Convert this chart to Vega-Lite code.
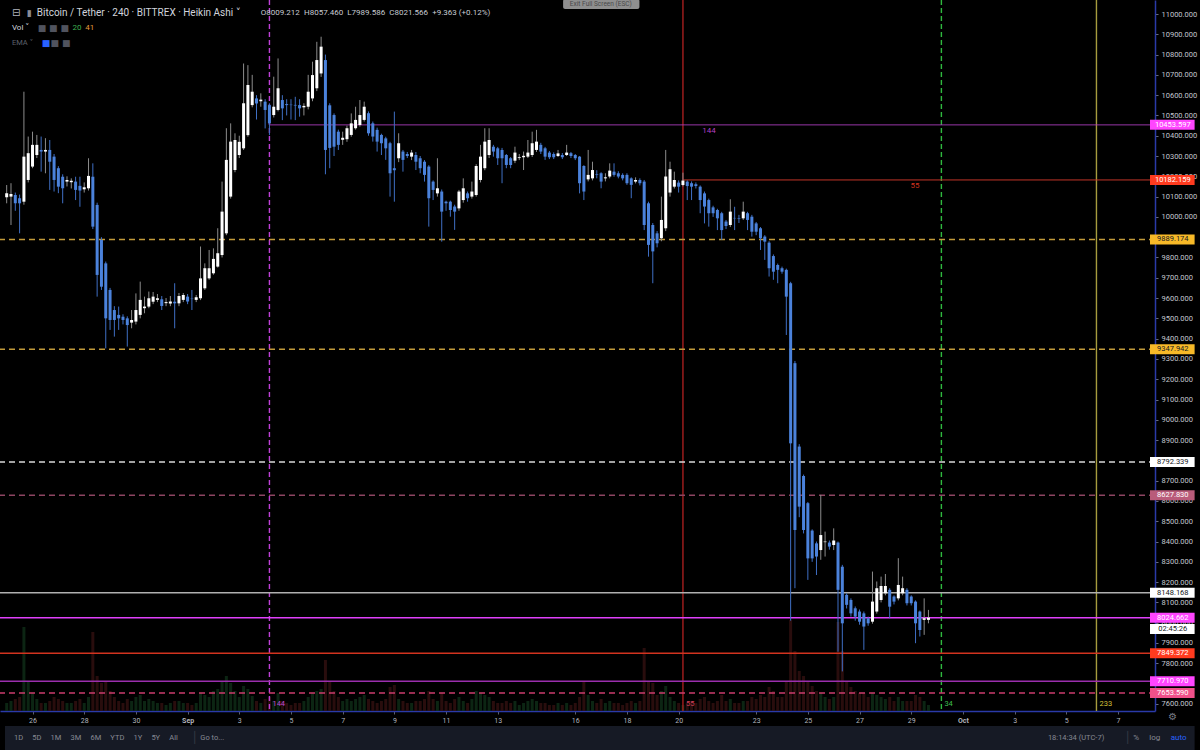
{
"$schema":"https://vega.github.io/schema/vega-lite/v6.json",
"usermeta":{"embedOptions":{"actions":false}},
"width":1155,"height":711,
"autosize":{"type":"none"},
"padding":{"left":0,"top":0,"right":45,"bottom":39},
"background":"#000000",
"config":{"view":{"stroke":null},"font":"Roboto","text":{"font":"Roboto"},"axis":{"labelOverlap":false},"axisY":{"labelOverlap":false,"tickCount":40}},
"datasets":{
"candles":[
{"t":"2019-08-25T00:00Z","o":10097,"h":10157,"l":10067,"c":10117,"v":8},
{"t":"2019-08-25T04:00Z","o":10100,"h":10166,"l":9960,"c":10113,"v":10},
{"t":"2019-08-25T08:00Z","o":10108,"h":10120,"l":10030,"c":10067,"v":12},
{"t":"2019-08-25T12:00Z","o":10092,"h":10110,"l":9919,"c":10067,"v":14},
{"t":"2019-08-25T16:00Z","o":10075,"h":10617,"l":10060,"c":10297,"v":84},
{"t":"2019-08-25T20:00Z","o":10182,"h":10396,"l":10170,"c":10314,"v":30},
{"t":"2019-08-26T00:00Z","o":10248,"h":10420,"l":10240,"c":10355,"v":18},
{"t":"2019-08-26T04:00Z","o":10305,"h":10404,"l":10290,"c":10355,"v":12},
{"t":"2019-08-26T08:00Z","o":10330,"h":10396,"l":10223,"c":10322,"v":8},
{"t":"2019-08-26T12:00Z","o":10322,"h":10388,"l":10215,"c":10330,"v":8},
{"t":"2019-08-26T16:00Z","o":10330,"h":10379,"l":10133,"c":10272,"v":10},
{"t":"2019-08-26T20:00Z","o":10297,"h":10310,"l":10125,"c":10182,"v":14},
{"t":"2019-08-27T00:00Z","o":10240,"h":10250,"l":10117,"c":10149,"v":12},
{"t":"2019-08-27T04:00Z","o":10198,"h":10210,"l":10067,"c":10141,"v":10},
{"t":"2019-08-27T08:00Z","o":10174,"h":10200,"l":10150,"c":10182,"v":8},
{"t":"2019-08-27T12:00Z","o":10171,"h":10190,"l":10140,"c":10178,"v":8},
{"t":"2019-08-27T16:00Z","o":10174,"h":10198,"l":10083,"c":10133,"v":10},
{"t":"2019-08-27T20:00Z","o":10153,"h":10198,"l":10050,"c":10130,"v":12},
{"t":"2019-08-28T00:00Z","o":10136,"h":10170,"l":10120,"c":10146,"v":8},
{"t":"2019-08-28T04:00Z","o":10141,"h":10289,"l":10130,"c":10202,"v":14},
{"t":"2019-08-28T08:00Z","o":10198,"h":10264,"l":9940,"c":9952,"v":79},
{"t":"2019-08-28T12:00Z","o":10059,"h":10070,"l":9607,"c":9714,"v":35},
{"t":"2019-08-28T16:00Z","o":9886,"h":9900,"l":9640,"c":9656,"v":28},
{"t":"2019-08-28T20:00Z","o":9771,"h":9780,"l":9352,"c":9500,"v":30},
{"t":"2019-08-29T00:00Z","o":9640,"h":9650,"l":9443,"c":9492,"v":20},
{"t":"2019-08-29T04:00Z","o":9541,"h":9560,"l":9410,"c":9492,"v":14},
{"t":"2019-08-29T08:00Z","o":9517,"h":9558,"l":9443,"c":9500,"v":10},
{"t":"2019-08-29T12:00Z","o":9508,"h":9520,"l":9470,"c":9492,"v":8},
{"t":"2019-08-29T16:00Z","o":9500,"h":9510,"l":9361,"c":9467,"v":12},
{"t":"2019-08-29T20:00Z","o":9479,"h":9541,"l":9451,"c":9492,"v":10},
{"t":"2019-08-30T00:00Z","o":9484,"h":9623,"l":9470,"c":9541,"v":14},
{"t":"2019-08-30T04:00Z","o":9517,"h":9681,"l":9500,"c":9591,"v":16},
{"t":"2019-08-30T08:00Z","o":9550,"h":9607,"l":9525,"c":9558,"v":10},
{"t":"2019-08-30T12:00Z","o":9558,"h":9632,"l":9550,"c":9599,"v":12},
{"t":"2019-08-30T16:00Z","o":9582,"h":9630,"l":9570,"c":9607,"v":10},
{"t":"2019-08-30T20:00Z","o":9591,"h":9620,"l":9580,"c":9599,"v":8},
{"t":"2019-08-31T00:00Z","o":9594,"h":9610,"l":9541,"c":9561,"v":8},
{"t":"2019-08-31T04:00Z","o":9575,"h":9600,"l":9560,"c":9580,"v":6},
{"t":"2019-08-31T08:00Z","o":9573,"h":9610,"l":9560,"c":9583,"v":8},
{"t":"2019-08-31T12:00Z","o":9582,"h":9673,"l":9451,"c":9574,"v":10},
{"t":"2019-08-31T16:00Z","o":9574,"h":9625,"l":9560,"c":9610,"v":10},
{"t":"2019-08-31T20:00Z","o":9591,"h":9625,"l":9580,"c":9615,"v":8},
{"t":"2019-09-01T00:00Z","o":9607,"h":9620,"l":9570,"c":9583,"v":8},
{"t":"2019-09-01T04:00Z","o":9597,"h":9640,"l":9541,"c":9595,"v":6},
{"t":"2019-09-01T08:00Z","o":9591,"h":9615,"l":9580,"c":9604,"v":8},
{"t":"2019-09-01T12:00Z","o":9599,"h":9854,"l":9590,"c":9697,"v":18},
{"t":"2019-09-01T16:00Z","o":9648,"h":9771,"l":9640,"c":9747,"v":16},
{"t":"2019-09-01T20:00Z","o":9697,"h":9837,"l":9690,"c":9747,"v":14},
{"t":"2019-09-02T00:00Z","o":9722,"h":9845,"l":9715,"c":9793,"v":20},
{"t":"2019-09-02T04:00Z","o":9755,"h":9944,"l":9750,"c":9821,"v":22},
{"t":"2019-09-02T08:00Z","o":9812,"h":10174,"l":9800,"c":10026,"v":30},
{"t":"2019-09-02T12:00Z","o":9919,"h":10437,"l":9910,"c":10281,"v":35},
{"t":"2019-09-02T16:00Z","o":10100,"h":10461,"l":10090,"c":10371,"v":28},
{"t":"2019-09-02T20:00Z","o":10231,"h":10412,"l":10220,"c":10379,"v":20},
{"t":"2019-09-03T00:00Z","o":10305,"h":10400,"l":10290,"c":10370,"v":14},
{"t":"2019-09-03T04:00Z","o":10338,"h":10756,"l":10330,"c":10560,"v":25},
{"t":"2019-09-03T08:00Z","o":10403,"h":10748,"l":10395,"c":10650,"v":22},
{"t":"2019-09-03T12:00Z","o":10551,"h":10700,"l":10540,"c":10617,"v":15},
{"t":"2019-09-03T16:00Z","o":10584,"h":10600,"l":10480,"c":10559,"v":10},
{"t":"2019-09-03T20:00Z","o":10570,"h":10609,"l":10543,"c":10578,"v":8},
{"t":"2019-09-04T00:00Z","o":10568,"h":10580,"l":10436,"c":10527,"v":12},
{"t":"2019-09-04T04:00Z","o":10551,"h":10560,"l":10403,"c":10461,"v":14},
{"t":"2019-09-04T08:00Z","o":10502,"h":10691,"l":10490,"c":10543,"v":10},
{"t":"2019-09-04T12:00Z","o":10527,"h":10781,"l":10520,"c":10634,"v":18},
{"t":"2019-09-04T16:00Z","o":10576,"h":10600,"l":10477,"c":10535,"v":10},
{"t":"2019-09-04T20:00Z","o":10556,"h":10580,"l":10500,"c":10551,"v":8},
{"t":"2019-09-05T00:00Z","o":10553,"h":10580,"l":10480,"c":10551,"v":6},
{"t":"2019-09-05T04:00Z","o":10552,"h":10592,"l":10477,"c":10549,"v":8},
{"t":"2019-09-05T08:00Z","o":10551,"h":10580,"l":10494,"c":10535,"v":8},
{"t":"2019-09-05T12:00Z","o":10540,"h":10560,"l":10500,"c":10547,"v":10},
{"t":"2019-09-05T16:00Z","o":10543,"h":10700,"l":10530,"c":10617,"v":14},
{"t":"2019-09-05T20:00Z","o":10584,"h":10765,"l":10570,"c":10699,"v":18},
{"t":"2019-09-06T00:00Z","o":10634,"h":10863,"l":10620,"c":10773,"v":20},
{"t":"2019-09-06T04:00Z","o":10707,"h":10888,"l":10690,"c":10839,"v":22},
{"t":"2019-09-06T08:00Z","o":10773,"h":10800,"l":10210,"c":10330,"v":51},
{"t":"2019-09-06T12:00Z","o":10550,"h":10560,"l":10240,"c":10340,"v":30},
{"t":"2019-09-06T16:00Z","o":10502,"h":10510,"l":10300,"c":10346,"v":20},
{"t":"2019-09-06T20:00Z","o":10420,"h":10430,"l":10330,"c":10355,"v":14},
{"t":"2019-09-07T00:00Z","o":10380,"h":10420,"l":10355,"c":10390,"v":10},
{"t":"2019-09-07T04:00Z","o":10383,"h":10450,"l":10370,"c":10437,"v":12},
{"t":"2019-09-07T08:00Z","o":10404,"h":10510,"l":10395,"c":10461,"v":10},
{"t":"2019-09-07T12:00Z","o":10437,"h":10543,"l":10430,"c":10478,"v":12},
{"t":"2019-09-07T16:00Z","o":10453,"h":10576,"l":10445,"c":10502,"v":14},
{"t":"2019-09-07T20:00Z","o":10478,"h":10568,"l":10470,"c":10543,"v":16},
{"t":"2019-09-08T00:00Z","o":10511,"h":10520,"l":10400,"c":10412,"v":12},
{"t":"2019-09-08T04:00Z","o":10461,"h":10470,"l":10371,"c":10396,"v":10},
{"t":"2019-09-08T08:00Z","o":10429,"h":10440,"l":10322,"c":10371,"v":8},
{"t":"2019-09-08T12:00Z","o":10404,"h":10410,"l":10305,"c":10363,"v":10},
{"t":"2019-09-08T16:00Z","o":10387,"h":10395,"l":10281,"c":10338,"v":12},
{"t":"2019-09-08T20:00Z","o":10363,"h":10370,"l":10100,"c":10215,"v":24},
{"t":"2019-09-09T00:00Z","o":10240,"h":10519,"l":10075,"c":10230,"v":26},
{"t":"2019-09-09T04:00Z","o":10289,"h":10412,"l":10270,"c":10363,"v":12},
{"t":"2019-09-09T08:00Z","o":10322,"h":10330,"l":10223,"c":10281,"v":10},
{"t":"2019-09-09T12:00Z","o":10310,"h":10320,"l":10290,"c":10300,"v":8},
{"t":"2019-09-09T16:00Z","o":10297,"h":10330,"l":10280,"c":10317,"v":8},
{"t":"2019-09-09T20:00Z","o":10305,"h":10320,"l":10231,"c":10272,"v":10},
{"t":"2019-09-10T00:00Z","o":10289,"h":10300,"l":10215,"c":10240,"v":10},
{"t":"2019-09-10T04:00Z","o":10272,"h":10280,"l":10174,"c":10207,"v":12},
{"t":"2019-09-10T08:00Z","o":10248,"h":10255,"l":9952,"c":10092,"v":20},
{"t":"2019-09-10T12:00Z","o":10174,"h":10180,"l":10083,"c":10133,"v":12},
{"t":"2019-09-10T16:00Z","o":10116,"h":10289,"l":10100,"c":10141,"v":10},
{"t":"2019-09-10T20:00Z","o":10125,"h":10135,"l":9878,"c":10026,"v":18},
{"t":"2019-09-11T00:00Z","o":10075,"h":10080,"l":10030,"c":10067,"v":10},
{"t":"2019-09-11T04:00Z","o":10075,"h":10080,"l":10001,"c":10034,"v":8},
{"t":"2019-09-11T08:00Z","o":10051,"h":10060,"l":9936,"c":10026,"v":12},
{"t":"2019-09-11T12:00Z","o":10042,"h":10133,"l":10030,"c":10125,"v":14},
{"t":"2019-09-11T16:00Z","o":10083,"h":10190,"l":10070,"c":10141,"v":10},
{"t":"2019-09-11T20:00Z","o":10116,"h":10125,"l":10075,"c":10092,"v":8},
{"t":"2019-09-12T00:00Z","o":10100,"h":10174,"l":10090,"c":10125,"v":12},
{"t":"2019-09-12T04:00Z","o":10108,"h":10260,"l":10100,"c":10251,"v":20},
{"t":"2019-09-12T08:00Z","o":10182,"h":10355,"l":10170,"c":10297,"v":18},
{"t":"2019-09-12T12:00Z","o":10240,"h":10437,"l":10230,"c":10371,"v":16},
{"t":"2019-09-12T16:00Z","o":10305,"h":10437,"l":10290,"c":10379,"v":14},
{"t":"2019-09-12T20:00Z","o":10346,"h":10355,"l":10297,"c":10322,"v":10},
{"t":"2019-09-13T00:00Z","o":10338,"h":10345,"l":10256,"c":10289,"v":8},
{"t":"2019-09-13T04:00Z","o":10330,"h":10340,"l":10166,"c":10289,"v":8},
{"t":"2019-09-13T08:00Z","o":10305,"h":10310,"l":10240,"c":10256,"v":10},
{"t":"2019-09-13T12:00Z","o":10289,"h":10295,"l":10240,"c":10256,"v":8},
{"t":"2019-09-13T16:00Z","o":10277,"h":10346,"l":10265,"c":10317,"v":10},
{"t":"2019-09-13T20:00Z","o":10290,"h":10310,"l":10280,"c":10294,"v":6},
{"t":"2019-09-14T00:00Z","o":10294,"h":10322,"l":10231,"c":10301,"v":8},
{"t":"2019-09-14T04:00Z","o":10297,"h":10379,"l":10290,"c":10317,"v":10},
{"t":"2019-09-14T08:00Z","o":10305,"h":10420,"l":10295,"c":10363,"v":12},
{"t":"2019-09-14T12:00Z","o":10330,"h":10429,"l":10320,"c":10371,"v":10},
{"t":"2019-09-14T16:00Z","o":10355,"h":10365,"l":10310,"c":10322,"v":8},
{"t":"2019-09-14T20:00Z","o":10338,"h":10345,"l":10281,"c":10297,"v":8},
{"t":"2019-09-15T00:00Z","o":10317,"h":10325,"l":10285,"c":10294,"v":6},
{"t":"2019-09-15T04:00Z","o":10310,"h":10318,"l":10285,"c":10294,"v":6},
{"t":"2019-09-15T08:00Z","o":10300,"h":10330,"l":10295,"c":10313,"v":8},
{"t":"2019-09-15T12:00Z","o":10305,"h":10315,"l":10285,"c":10294,"v":6},
{"t":"2019-09-15T16:00Z","o":10305,"h":10355,"l":10300,"c":10317,"v":8},
{"t":"2019-09-15T20:00Z","o":10314,"h":10320,"l":10290,"c":10300,"v":6},
{"t":"2019-09-16T00:00Z","o":10305,"h":10310,"l":10280,"c":10289,"v":8},
{"t":"2019-09-16T04:00Z","o":10297,"h":10300,"l":10116,"c":10166,"v":14},
{"t":"2019-09-16T08:00Z","o":10251,"h":10255,"l":10083,"c":10125,"v":30},
{"t":"2019-09-16T12:00Z","o":10185,"h":10330,"l":10175,"c":10207,"v":16},
{"t":"2019-09-16T16:00Z","o":10190,"h":10272,"l":10180,"c":10231,"v":10},
{"t":"2019-09-16T20:00Z","o":10210,"h":10230,"l":10190,"c":10207,"v":8},
{"t":"2019-09-17T00:00Z","o":10215,"h":10220,"l":10141,"c":10174,"v":12},
{"t":"2019-09-17T04:00Z","o":10190,"h":10215,"l":10175,"c":10195,"v":8},
{"t":"2019-09-17T08:00Z","o":10199,"h":10264,"l":10190,"c":10228,"v":10},
{"t":"2019-09-17T12:00Z","o":10223,"h":10264,"l":10198,"c":10207,"v":8},
{"t":"2019-09-17T16:00Z","o":10215,"h":10225,"l":10190,"c":10199,"v":8},
{"t":"2019-09-17T20:00Z","o":10207,"h":10215,"l":10180,"c":10190,"v":6},
{"t":"2019-09-18T00:00Z","o":10207,"h":10215,"l":10158,"c":10166,"v":8},
{"t":"2019-09-18T04:00Z","o":10190,"h":10195,"l":10092,"c":10158,"v":10},
{"t":"2019-09-18T08:00Z","o":10174,"h":10195,"l":10165,"c":10182,"v":8},
{"t":"2019-09-18T12:00Z","o":10182,"h":10190,"l":10155,"c":10166,"v":10},
{"t":"2019-09-18T16:00Z","o":10174,"h":10182,"l":9935,"c":9960,"v":63},
{"t":"2019-09-18T20:00Z","o":10067,"h":10075,"l":9804,"c":9862,"v":30},
{"t":"2019-09-19T00:00Z","o":9960,"h":9970,"l":9673,"c":9830,"v":28},
{"t":"2019-09-19T04:00Z","o":9919,"h":9930,"l":9850,"c":9870,"v":16},
{"t":"2019-09-19T08:00Z","o":9895,"h":10100,"l":9880,"c":9985,"v":20},
{"t":"2019-09-19T12:00Z","o":9944,"h":10330,"l":9930,"c":10199,"v":25},
{"t":"2019-09-19T16:00Z","o":10120,"h":10272,"l":10100,"c":10235,"v":14},
{"t":"2019-09-19T20:00Z","o":10149,"h":10223,"l":10140,"c":10182,"v":10},
{"t":"2019-09-20T00:00Z","o":10169,"h":10180,"l":10120,"c":10149,"v":8},
{"t":"2019-09-20T04:00Z","o":10157,"h":10218,"l":10150,"c":10179,"v":6},
{"t":"2019-09-20T08:00Z","o":10174,"h":10180,"l":10083,"c":10152,"v":8},
{"t":"2019-09-20T12:00Z","o":10166,"h":10175,"l":10083,"c":10149,"v":10},
{"t":"2019-09-20T16:00Z","o":10161,"h":10170,"l":10140,"c":10152,"v":8},
{"t":"2019-09-20T20:00Z","o":10149,"h":10155,"l":10018,"c":10083,"v":12},
{"t":"2019-09-21T00:00Z","o":10116,"h":10125,"l":9968,"c":10051,"v":14},
{"t":"2019-09-21T04:00Z","o":10083,"h":10090,"l":9952,"c":10018,"v":10},
{"t":"2019-09-21T08:00Z","o":10047,"h":10055,"l":10000,"c":10018,"v":8},
{"t":"2019-09-21T12:00Z","o":10034,"h":10040,"l":9935,"c":9993,"v":10},
{"t":"2019-09-21T16:00Z","o":10018,"h":10025,"l":9886,"c":9935,"v":16},
{"t":"2019-09-21T20:00Z","o":9977,"h":9985,"l":9940,"c":9955,"v":10},
{"t":"2019-09-22T00:00Z","o":9960,"h":10087,"l":9950,"c":10026,"v":12},
{"t":"2019-09-22T04:00Z","o":9995,"h":10050,"l":9935,"c":9993,"v":8},
{"t":"2019-09-22T08:00Z","o":9993,"h":10010,"l":9970,"c":9990,"v":8},
{"t":"2019-09-22T12:00Z","o":9993,"h":10075,"l":9985,"c":10026,"v":10},
{"t":"2019-09-22T16:00Z","o":10018,"h":10025,"l":9935,"c":9985,"v":10},
{"t":"2019-09-22T20:00Z","o":10001,"h":10010,"l":9903,"c":9927,"v":14},
{"t":"2019-09-23T00:00Z","o":9968,"h":9975,"l":9910,"c":9927,"v":12},
{"t":"2019-09-23T04:00Z","o":9944,"h":9950,"l":9837,"c":9895,"v":16},
{"t":"2019-09-23T08:00Z","o":9903,"h":9910,"l":9788,"c":9878,"v":14},
{"t":"2019-09-23T12:00Z","o":9873,"h":9880,"l":9706,"c":9747,"v":24},
{"t":"2019-09-23T16:00Z","o":9807,"h":9815,"l":9690,"c":9730,"v":20},
{"t":"2019-09-23T20:00Z","o":9763,"h":9770,"l":9673,"c":9739,"v":14},
{"t":"2019-09-24T00:00Z","o":9747,"h":9755,"l":9720,"c":9730,"v":14},
{"t":"2019-09-24T04:00Z","o":9739,"h":9745,"l":9418,"c":9607,"v":30},
{"t":"2019-09-24T08:00Z","o":9673,"h":9680,"l":8010,"c":8884,"v":91},
{"t":"2019-09-24T12:00Z","o":9279,"h":9290,"l":8170,"c":8457,"v":60},
{"t":"2019-09-24T16:00Z","o":8868,"h":8880,"l":8520,"c":8572,"v":40},
{"t":"2019-09-24T20:00Z","o":8723,"h":8730,"l":8440,"c":8457,"v":35},
{"t":"2019-09-25T00:00Z","o":8589,"h":8595,"l":8211,"c":8317,"v":30},
{"t":"2019-09-25T04:00Z","o":8454,"h":8460,"l":8300,"c":8317,"v":25},
{"t":"2019-09-25T08:00Z","o":8391,"h":8400,"l":8235,"c":8326,"v":20},
{"t":"2019-09-25T12:00Z","o":8358,"h":8630,"l":8310,"c":8432,"v":18},
{"t":"2019-09-25T16:00Z","o":8397,"h":8449,"l":8326,"c":8400,"v":14},
{"t":"2019-09-25T20:00Z","o":8395,"h":8405,"l":8360,"c":8375,"v":12},
{"t":"2019-09-26T00:00Z","o":8383,"h":8465,"l":8358,"c":8405,"v":14},
{"t":"2019-09-26T04:00Z","o":8395,"h":8400,"l":7857,"c":8162,"v":89},
{"t":"2019-09-26T08:00Z","o":8276,"h":8285,"l":7760,"c":7997,"v":60},
{"t":"2019-09-26T12:00Z","o":8137,"h":8145,"l":8070,"c":8088,"v":30},
{"t":"2019-09-26T16:00Z","o":8112,"h":8120,"l":8030,"c":8046,"v":24},
{"t":"2019-09-26T20:00Z","o":8071,"h":8080,"l":8010,"c":8030,"v":20},
{"t":"2019-09-27T00:00Z","o":8055,"h":8065,"l":7990,"c":8005,"v":18},
{"t":"2019-09-27T04:00Z","o":8046,"h":8055,"l":7866,"c":7981,"v":18},
{"t":"2019-09-27T08:00Z","o":8022,"h":8030,"l":7985,"c":7997,"v":14},
{"t":"2019-09-27T12:00Z","o":8005,"h":8252,"l":7995,"c":8104,"v":18},
{"t":"2019-09-27T16:00Z","o":8055,"h":8203,"l":8045,"c":8170,"v":16},
{"t":"2019-09-27T20:00Z","o":8112,"h":8227,"l":8100,"c":8181,"v":14},
{"t":"2019-09-28T00:00Z","o":8145,"h":8240,"l":8135,"c":8181,"v":12},
{"t":"2019-09-28T04:00Z","o":8162,"h":8170,"l":8022,"c":8079,"v":14},
{"t":"2019-09-28T08:00Z","o":8129,"h":8135,"l":8090,"c":8104,"v":10},
{"t":"2019-09-28T12:00Z","o":8120,"h":8318,"l":8110,"c":8186,"v":14},
{"t":"2019-09-28T16:00Z","o":8145,"h":8227,"l":8135,"c":8170,"v":10},
{"t":"2019-09-28T20:00Z","o":8162,"h":8170,"l":8085,"c":8096,"v":10},
{"t":"2019-09-29T00:00Z","o":8129,"h":8135,"l":8085,"c":8096,"v":10},
{"t":"2019-09-29T04:00Z","o":8104,"h":8110,"l":7899,"c":7997,"v":16},
{"t":"2019-09-29T08:00Z","o":8055,"h":8060,"l":7932,"c":7964,"v":14},
{"t":"2019-09-29T12:00Z","o":8014,"h":8120,"l":7940,"c":8022,"v":10},
{"t":"2019-09-29T16:00Z","o":8014,"h":8063,"l":7997,"c":8025,"v":6}
],
"levels":[
{"p":10453.597,"k":"L1","from":"2019-09-04T04:00Z"},
{"p":10182.159,"k":"L2","from":"2019-09-20T04:00Z"},
{"p":9889.174,"k":"L3"},
{"p":9347.942,"k":"L4"},
{"p":8792.339,"k":"L5"},
{"p":8627.830,"k":"L6"},
{"p":8148.168,"k":"L7"},
{"p":8024.662,"k":"L8"},
{"p":7849.372,"k":"L9"},
{"p":7710.970,"k":"L10"},
{"p":7653.590,"k":"L11"}
],
"vlines":[
{"t":"2019-09-04T04:00Z","k":"V1","lab":"144"},
{"t":"2019-09-20T04:00Z","k":"V2","lab":"55"},
{"t":"2019-09-30T04:00Z","k":"V3","lab":"34"},
{"t":"2019-10-06T04:00Z","k":"V4","lab":"233"}
]
},
"layer":[
{
"data":{"name":"candles"},
"mark":{"type":"tick","orient":"vertical","thickness":3,"clip":true},
"encoding":{
"x":{"field":"t","type":"temporal",
 "scale":{"type":"utc","domain":[{"year":2019,"month":8,"date":24,"hours":22,"minutes":26,"seconds":6,"utc":true},{"year":2019,"month":10,"date":8,"hours":5,"minutes":43,"seconds":34,"utc":true}]},
 "axis":{"title":null,"grid":false,
  "values":[{"year":2019,"month":8,"date":26,"utc":true},{"year":2019,"month":8,"date":28,"utc":true},{"year":2019,"month":8,"date":30,"utc":true},{"year":2019,"month":9,"date":1,"utc":true},{"year":2019,"month":9,"date":3,"utc":true},{"year":2019,"month":9,"date":5,"utc":true},{"year":2019,"month":9,"date":7,"utc":true},{"year":2019,"month":9,"date":9,"utc":true},{"year":2019,"month":9,"date":11,"utc":true},{"year":2019,"month":9,"date":13,"utc":true},{"year":2019,"month":9,"date":16,"utc":true},{"year":2019,"month":9,"date":18,"utc":true},{"year":2019,"month":9,"date":20,"utc":true},{"year":2019,"month":9,"date":23,"utc":true},{"year":2019,"month":9,"date":25,"utc":true},{"year":2019,"month":9,"date":27,"utc":true},{"year":2019,"month":9,"date":29,"utc":true},{"year":2019,"month":10,"date":1,"utc":true},{"year":2019,"month":10,"date":3,"utc":true},{"year":2019,"month":10,"date":5,"utc":true},{"year":2019,"month":10,"date":7,"utc":true}],
  "labelExpr":"utcdate(datum.value) == 1 ? utcFormat(datum.value, '%b') : utcFormat(datum.value, '%-d')",
  "labelFontWeight":{"condition":{"test":"utcdate(datum.value) == 1","value":"bold"},"value":"normal"},
  "labelColor":"#b2b5be","labelFontSize":7,"labelFont":"Roboto","labelPadding":2,
  "tickColor":"#5d606b","tickSize":3,"domainColor":"#2a3aa8","domainWidth":1.5,
  "labelOverlap":false,"labelFlush":false}},
"y":{"datum":7564.8,"type":"quantitative","scale":{"domain":[7564.8,11069],"zero":false,"nice":false},
 "axis":{"orient":"right","title":null,"grid":false,"format":".3f","tickCount":40,
  "values":[7600,7700,7800,7900,8000,8100,8200,8300,8400,8500,8600,8700,8800,8900,9000,9100,9200,9300,9400,9500,9600,9700,9800,9900,10000,10100,10200,10300,10400,10500,10600,10700,10800,10900,11000],
  "labelColor":"#c3c6ce","labelFontSize":7.5,"labelFont":"Roboto","labelPadding":3,
  "tickColor":"#6a6d78","tickSize":3,"domainColor":"#2a3aa8","domainWidth":1.5,
  "labelOverlap":false,"labelSeparation":0,"labelFlush":false}},
"size":{"field":"v","type":"quantitative","legend":null,"scale":{"type":"linear","domain":[0,100],"range":[0,200]}},
"color":{"condition":{"test":"datum.c >= datum.o","value":"#11341b"},"value":"#3b1313"}
}
},
{
"data":{"name":"vlines"},
"mark":{"type":"rule","strokeWidth":1.4},
"encoding":{
"x":{"field":"t","type":"temporal"},
"stroke":{"field":"k","type":"nominal","legend":null,"scale":{"domain":["L1","L2","L3","L4","L5","L6","L7","L8","L9","L10","L11","V1","V2","V3","V4"],"range":["#b13fc4","#c8382a","#c29a3a","#c29a3a","#d9d9d9","#8e4562","#b0b0b0","#e040fb","#d2331f","#9b2fae","#cc3d6e","#c040d8","#a61e1e","#2fb83f","#a69c3e"]}},
"strokeDash":{"field":"k","type":"nominal","legend":null,"scale":{"domain":["L1","L2","L3","L4","L5","L6","L7","L8","L9","L10","L11","V1","V2","V3","V4"],"range":[[1,0],[1,0],[6,4],[6,4],[6,4],[6,4],[1,0],[1,0],[1,0],[1,0],[6,4],[5,3],[1,0],[5,3],[1,0]]}}
}
},
{
"data":{"name":"levels"},
"transform":[{"filter":{"not":{"field":"k","oneOf":["L1","L2"]}}}],
"mark":{"type":"rule","strokeWidth":1.5},
"encoding":{
"y":{"field":"p","type":"quantitative"},
"stroke":{"field":"k","type":"nominal","legend":null},
"strokeDash":{"field":"k","type":"nominal","legend":null}
}
},
{
"data":{"name":"levels"},
"transform":[{"filter":{"field":"k","oneOf":["L1","L2"]}}],
"mark":{"type":"rule","strokeWidth":1},
"encoding":{
"x":{"field":"from","type":"temporal"},
"x2":{"datum":{"year":2019,"month":10,"date":8,"hours":5,"minutes":43,"seconds":34,"utc":true}},
"y":{"field":"p","type":"quantitative"},
"stroke":{"field":"k","type":"nominal","legend":null},
"strokeDash":{"field":"k","type":"nominal","legend":null}
}
},
{
"data":{"name":"candles"},
"mark":{"type":"rule","strokeWidth":1},
"encoding":{
"x":{"field":"t","type":"temporal"},
"y":{"field":"l","type":"quantitative"},
"y2":{"field":"h"},
"color":{"condition":{"test":"datum.c >= datum.o","value":"#8c8c8c"},"value":"#3f6fc4"}
}
},
{
"data":{"name":"candles"},
"mark":{"type":"bar","size":3},
"encoding":{
"x":{"field":"t","type":"temporal"},
"y":{"field":"o","type":"quantitative","scale":{"domain":[7564.8,11069],"zero":false,"nice":false},
 "axis":{"orient":"right","title":null,"grid":false,"format":".3f","tickCount":40,
  "values":[7600,7700,7800,7900,8000,8100,8200,8300,8400,8500,8600,8700,8800,8900,9000,9100,9200,9300,9400,9500,9600,9700,9800,9900,10000,10100,10200,10300,10400,10500,10600,10700,10800,10900,11000],
  "labelColor":"#c3c6ce","labelFontSize":7.5,"labelFont":"Roboto","labelPadding":3,
  "tickColor":"#6a6d78","tickSize":3,"domainColor":"#2a3aa8","domainWidth":1.5,
  "labelOverlap":false,"labelSeparation":0,"labelFlush":false}},
"y2":{"field":"c"},
"color":{"condition":{"test":"datum.c >= datum.o","value":"#ffffff"},"value":"#4b82db"}
}
},
{
"data":{"name":"vlines"},
"mark":{"type":"text","align":"left","baseline":"middle","dx":3,"fontSize":7.5},
"encoding":{
"x":{"field":"t","type":"temporal"},
"y":{"datum":7600,"type":"quantitative"},
"text":{"field":"lab"},
"fill":{"field":"k","type":"nominal","legend":null,"scale":{"domain":["L1","L2","L3","L4","L5","L6","L7","L8","L9","L10","L11","V1","V2","V3","V4"],"range":["#ffffff","#ffffff","#131722","#131722","#131722","#ffffff","#131722","#ffffff","#ffffff","#ffffff","#ffffff","#c04ad0","#d8405a","#3fbf4f","#d6c43a"]}}
}
},
{
"data":{"values":[{}]},
"mark":{"type":"rule","strokeWidth":10,"strokeCap":"butt","color":"#ffffff"},
"encoding":{
"x":{"datum":{"year":2019,"month":10,"date":8,"hours":5,"minutes":43,"seconds":34,"utc":true}},
"x2":{"datum":{"year":2019,"month":10,"date":9,"hours":23,"minutes":9,"utc":true}},
"y":{"datum":7969,"type":"quantitative"}
}
},
{
"data":{"values":[{}]},
"mark":{"type":"text","align":"center","baseline":"middle","fontSize":7.5,"color":"#131722"},
"encoding":{
"x":{"datum":{"year":2019,"month":10,"date":9,"hours":2,"minutes":53,"utc":true}},
"y":{"datum":7969,"type":"quantitative"},
"text":{"value":"02:45:26"}
}
},
{
"data":{"name":"levels"},
"mark":{"type":"rule","strokeWidth":10,"strokeCap":"butt"},
"encoding":{
"x":{"datum":{"year":2019,"month":10,"date":8,"hours":5,"minutes":43,"seconds":34,"utc":true}},
"x2":{"datum":{"year":2019,"month":10,"date":9,"hours":23,"minutes":9,"utc":true}},
"y":{"field":"p","type":"quantitative"},
"color":{"field":"k","type":"nominal","legend":null,"scale":{"domain":["L1","L2","L3","L4","L5","L6","L7","L8","L9","L10","L11"],"range":["#ff45ff","#ff3b1f","#f7b928","#f7b928","#ffffff","#b95b7a","#ffffff","#ff45ff","#ff3b1f","#ff45ff","#f0508a"]}}
}
},
{
"data":{"name":"levels"},
"mark":{"type":"text","align":"center","baseline":"middle","fontSize":7.5},
"encoding":{
"x":{"datum":{"year":2019,"month":10,"date":9,"hours":2,"minutes":53,"utc":true}},
"y":{"field":"p","type":"quantitative"},
"text":{"field":"p","type":"quantitative","format":".3f"},
"fill":{"field":"k","type":"nominal","legend":null}
}
},
{
"data":{"values":[{}]},
"mark":{"type":"text","align":"center","baseline":"middle","fontSize":8,"color":"#b13fc4"},
"encoding":{"x":{"datum":{"year":2019,"month":9,"date":21,"hours":4,"minutes":6,"utc":true}},"y":{"datum":10423,"type":"quantitative"},"text":{"value":"144"}}
},
{
"data":{"values":[{}]},
"mark":{"type":"text","align":"center","baseline":"middle","fontSize":8,"color":"#d2331f"},
"encoding":{"x":{"datum":{"year":2019,"month":9,"date":29,"hours":3,"minutes":30,"utc":true}},"y":{"datum":10152,"type":"quantitative"},"text":{"value":"55"}}
},
{
"data":{"values":[{}]},
"mark":{"type":"text","align":"left","baseline":"middle","fontSize":10,"color":"#b2b5be","font":"DejaVu Sans"},
"encoding":{"x":{"datum":{"year":2019,"month":8,"date":25,"hours":4,"minutes":53,"utc":true}},"y":{"datum":11005,"type":"quantitative"},"text":{"value":"⊟"}}
},
{
"data":{"values":[{}]},
"mark":{"type":"text","align":"left","baseline":"middle","fontSize":9,"color":"#8a8d96","font":"DejaVu Sans"},
"encoding":{"x":{"datum":{"year":2019,"month":8,"date":25,"hours":18,"minutes":41,"utc":true}},"y":{"datum":11005,"type":"quantitative"},"text":{"value":"▮"}}
},
{
"data":{"values":[{}]},
"mark":{"type":"text","align":"left","baseline":"middle","fontSize":10,"color":"#d1d4dc","font":"Roboto, DejaVu Sans"},
"encoding":{"x":{"datum":{"year":2019,"month":8,"date":26,"hours":3,"minutes":54,"utc":true}},"y":{"datum":11005,"type":"quantitative"},"text":{"value":"Bitcoin / Tether · 240 · BITTREX · Heikin Ashi ˅"}}
},
{
"data":{"values":[{}]},
"mark":{"type":"text","align":"left","baseline":"middle","fontSize":8,"color":"#c8cbd3"},
"encoding":{"x":{"datum":{"year":2019,"month":9,"date":3,"hours":19,"minutes":57,"utc":true}},"y":{"datum":11003,"type":"quantitative"},"text":{"value":"O8009.212\u2002H8057.460\u2002L7989.586\u2002C8021.566\u2002+9.363 (+0.12%)"}}
},
{
"data":{"values":[{}]},
"mark":{"type":"text","align":"left","baseline":"middle","fontSize":8,"color":"#d1d4dc","font":"Roboto, DejaVu Sans"},
"encoding":{"x":{"datum":{"year":2019,"month":8,"date":25,"hours":4,"minutes":53,"utc":true}},"y":{"datum":10931,"type":"quantitative"},"text":{"value":"Vol ˅"}}
},
{
"data":{"values":[{}]},
"mark":{"type":"text","align":"left","baseline":"middle","fontSize":9,"color":"#50535e","font":"DejaVu Sans"},
"encoding":{"x":{"datum":{"year":2019,"month":8,"date":26,"hours":4,"minutes":49,"utc":true}},"y":{"datum":10931,"type":"quantitative"},"text":{"value":"■ ■ ■"}}
},
{
"data":{"values":[{}]},
"mark":{"type":"text","align":"left","baseline":"middle","fontSize":8,"color":"#3fae4f"},
"encoding":{"x":{"datum":{"year":2019,"month":8,"date":27,"hours":13,"minutes":2,"utc":true}},"y":{"datum":10931,"type":"quantitative"},"text":{"value":"20"}}
},
{
"data":{"values":[{}]},
"mark":{"type":"text","align":"left","baseline":"middle","fontSize":8,"color":"#e39a3b"},
"encoding":{"x":{"datum":{"year":2019,"month":8,"date":28,"hours":1,"minutes":0,"utc":true}},"y":{"datum":10931,"type":"quantitative"},"text":{"value":"41"}}
},
{
"data":{"values":[{}]},
"mark":{"type":"text","align":"left","baseline":"middle","fontSize":7.5,"color":"#5d606b","font":"Roboto, DejaVu Sans"},
"encoding":{"x":{"datum":{"year":2019,"month":8,"date":25,"hours":4,"minutes":53,"utc":true}},"y":{"datum":10857,"type":"quantitative"},"text":{"value":"EMA ˅"}}
},
{
"data":{"values":[{}]},
"mark":{"type":"text","align":"left","baseline":"middle","fontSize":9,"color":"#2962ff","font":"DejaVu Sans"},
"encoding":{"x":{"datum":{"year":2019,"month":8,"date":26,"hours":8,"minutes":30,"utc":true}},"y":{"datum":10857,"type":"quantitative"},"text":{"value":"■"}}
},
{
"data":{"values":[{}]},
"mark":{"type":"text","align":"left","baseline":"middle","fontSize":9,"color":"#50535e","font":"DejaVu Sans"},
"encoding":{"x":{"datum":{"year":2019,"month":8,"date":26,"hours":16,"minutes":47,"utc":true}},"y":{"datum":10857,"type":"quantitative"},"text":{"value":"■ ■"}}
},
{
"data":{"values":[{}]},
"mark":{"type":"rect","color":"#8f8f8f","cornerRadius":2},
"encoding":{
"x":{"datum":{"year":2019,"month":9,"date":15,"hours":12,"minutes":43,"utc":true}},
"x2":{"datum":{"year":2019,"month":9,"date":18,"hours":11,"minutes":36,"utc":true}},
"y":{"datum":11074,"type":"quantitative"},"y2":{"datum":11025}
}
},
{
"data":{"values":[{}]},
"mark":{"type":"text","align":"center","baseline":"middle","fontSize":6.5,"color":"#4a4a4a"},
"encoding":{"x":{"datum":{"year":2019,"month":9,"date":16,"hours":23,"minutes":42,"utc":true}},"y":{"datum":11049,"type":"quantitative"},"text":{"value":"Exit Full Screen (ESC)"}}
},
{
"data":{"values":[{}]},
"mark":{"type":"rect","color":"#161a25"},
"encoding":{
"x":{"datum":{"year":2019,"month":8,"date":24,"hours":22,"minutes":26,"seconds":6,"utc":true}},
"x2":{"datum":{"year":2019,"month":10,"date":9,"hours":23,"minutes":9,"utc":true}},
"y":{"datum":7491,"type":"quantitative"},"y2":{"datum":7363}
}
},
{
"data":{"values":[{}]},
"mark":{"type":"text","align":"left","baseline":"middle","fontSize":7.5,"color":"#868993"},
"encoding":{"x":{"datum":{"year":2019,"month":8,"date":25,"hours":6,"minutes":43,"utc":true}},"y":{"datum":7432,"type":"quantitative"},"text":{"value":"1D\u2002\u2002\u20095D\u2002\u2002\u20091M\u2002\u2002\u20093M\u2002\u2002\u20096M\u2002\u2002\u2009YTD\u2002\u2002\u20091Y\u2002\u2002\u20095Y\u2002\u2002\u2009All"}}
},
{
"data":{"values":[{}]},
"mark":{"type":"text","align":"left","baseline":"middle","fontSize":11,"color":"#363a45","font":"DejaVu Sans"},
"encoding":{"x":{"datum":{"year":2019,"month":9,"date":1,"hours":3,"minutes":30,"utc":true}},"y":{"datum":7432,"type":"quantitative"},"text":{"value":"│"}}
},
{
"data":{"values":[{}]},
"mark":{"type":"text","align":"left","baseline":"middle","fontSize":7.5,"color":"#868993"},
"encoding":{"x":{"datum":{"year":2019,"month":9,"date":1,"hours":11,"minutes":48,"utc":true}},"y":{"datum":7432,"type":"quantitative"},"text":{"value":"Go to..."}}
},
{
"data":{"values":[{}]},
"mark":{"type":"text","align":"left","baseline":"middle","fontSize":7.5,"color":"#868993"},
"encoding":{"x":{"datum":{"year":2019,"month":10,"date":4,"hours":6,"minutes":54,"utc":true}},"y":{"datum":7432,"type":"quantitative"},"text":{"value":"18:14:34 (UTC-7)"}}
},
{
"data":{"values":[{}]},
"mark":{"type":"text","align":"left","baseline":"middle","fontSize":11,"color":"#363a45","font":"DejaVu Sans"},
"encoding":{"x":{"datum":{"year":2019,"month":10,"date":7,"hours":5,"minutes":48,"utc":true}},"y":{"datum":7432,"type":"quantitative"},"text":{"value":"│"}}
},
{
"data":{"values":[{}]},
"mark":{"type":"text","align":"left","baseline":"middle","fontSize":8,"color":"#868993"},
"encoding":{"x":{"datum":{"year":2019,"month":10,"date":7,"hours":14,"minutes":6,"utc":true}},"y":{"datum":7432,"type":"quantitative"},"text":{"value":"%"}}
},
{
"data":{"values":[{}]},
"mark":{"type":"text","align":"left","baseline":"middle","fontSize":8,"color":"#868993"},
"encoding":{"x":{"datum":{"year":2019,"month":10,"date":8,"hours":5,"minutes":6,"utc":true}},"y":{"datum":7432,"type":"quantitative"},"text":{"value":"log"}}
},
{
"data":{"values":[{}]},
"mark":{"type":"text","align":"left","baseline":"middle","fontSize":8,"color":"#2962ff"},
"encoding":{"x":{"datum":{"year":2019,"month":10,"date":9,"hours":1,"minutes":0,"utc":true}},"y":{"datum":7432,"type":"quantitative"},"text":{"value":"auto"}}
},
{
"data":{"values":[{}]},
"mark":{"type":"text","align":"center","baseline":"middle","fontSize":10,"color":"#787b86","font":"DejaVu Sans"},
"encoding":{"x":{"datum":{"year":2019,"month":10,"date":9,"hours":2,"minutes":53,"utc":true}},"y":{"datum":7536,"type":"quantitative"},"text":{"value":"⚙"}}
}
]
}
